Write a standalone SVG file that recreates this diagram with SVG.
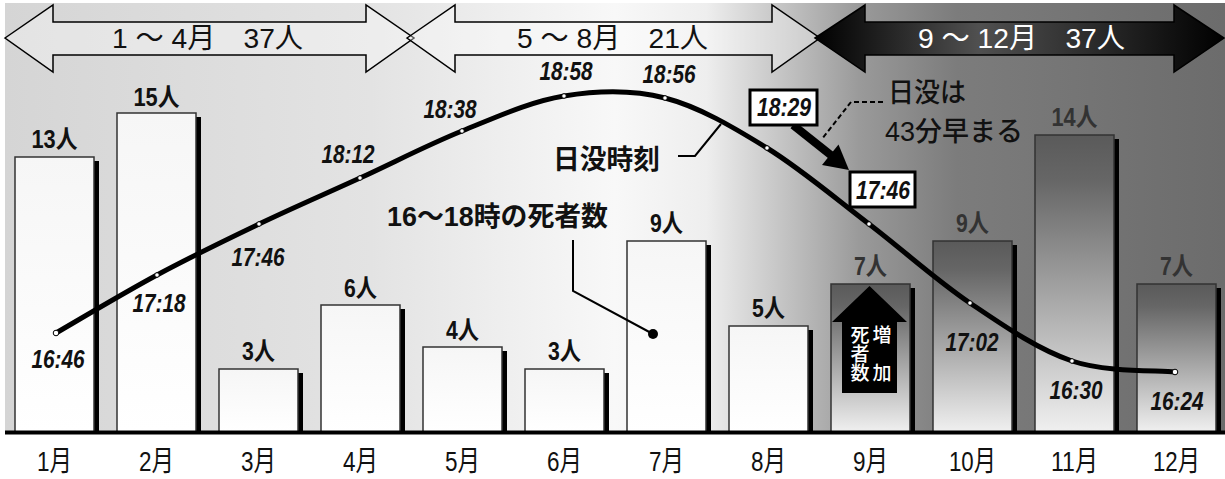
<svg xmlns="http://www.w3.org/2000/svg" width="1225" height="479" viewBox="0 0 1225 479">
<defs>
<linearGradient id="bg" gradientUnits="userSpaceOnUse" x1="5" y1="0" x2="1225" y2="0">
<stop offset="0" stop-color="#d5d5d5"/>
<stop offset="0.3" stop-color="#e3e3e3"/>
<stop offset="0.5" stop-color="#f8f8f8"/>
<stop offset="0.575" stop-color="#eeeeee"/>
<stop offset="0.63" stop-color="#c9c9c9"/>
<stop offset="0.7" stop-color="#9a9a9a"/>
<stop offset="0.78" stop-color="#7c7c7c"/>
<stop offset="1" stop-color="#6c6c6c"/>
</linearGradient>
<linearGradient id="dark" x1="0" y1="0" x2="0" y2="1">
<stop offset="0" stop-color="#5a5a5a"/>
<stop offset="0.15" stop-color="#666666"/>
<stop offset="1" stop-color="#f0f0f0"/>
</linearGradient>
<linearGradient id="light" x1="0" y1="0" x2="0" y2="1">
<stop offset="0" stop-color="#f6f6f6"/>
<stop offset="1" stop-color="#ffffff"/>
</linearGradient>
<linearGradient id="blk" gradientUnits="userSpaceOnUse" x1="815" y1="0" x2="1224" y2="0">
<stop offset="0" stop-color="#000"/>
<stop offset="0.4" stop-color="#505050"/>
<stop offset="0.75" stop-color="#222"/>
<stop offset="1" stop-color="#000"/>
</linearGradient>
</defs>
<style>
text { font-family: "Liberation Sans", "Noto Sans CJK JP", sans-serif; fill: #111; }
.band { stroke: #000; stroke-width: 1.5; fill: #fff; fill-opacity: 0.35; }
.bandk { stroke: #000; stroke-width: 1.5; fill: url(#blk); }
.bt { font-size: 28px; }
.bar { stroke: #333; stroke-width: 1.5; }
.lt { fill: url(#light); }
.dk { fill: url(#dark); }
.sh { fill: #000; }
.bl { font-weight: bold; font-size: 25px; }
.bl.g { fill: #333; }
.t { font-weight: bold; font-style: italic; font-size: 25px; }
.m { font-size: 28px; }
.n { font-size: 27px; font-weight: 500; }
.nb { font-size: 27px; font-weight: bold; }
.ln { fill: none; stroke: #000; stroke-width: 2; }
.dot { fill: #fff; stroke: #000; stroke-width: 1; }
.box { fill: #fff; stroke: #000; stroke-width: 3; }
</style>

<rect x="5" y="3" width="1220" height="429" fill="url(#bg)"/>

<g id="band-1-4">
<polygon class="band" points="5,38 53,5 53,22 366,22 366,5 414,38 366,72 366,55 53,55 53,72"/>
<text class="bt" x="112" y="48" textLength="191" lengthAdjust="spacingAndGlyphs">1 ～ 4月　37人</text>
</g>
<g id="band-5-8">
<polygon class="band" points="407,38 455,5 455,22 772,22 772,5 820,38 772,72 772,55 455,55 455,72"/>
<text class="bt" x="517" y="48" textLength="191" lengthAdjust="spacingAndGlyphs">5 ～ 8月　21人</text>
</g>
<g id="band-9-12">
<polygon class="bandk" points="815,38 865,5 865,22 1174,22 1174,5 1224,38 1174,72 1174,55 865,55 865,72"/>
<text class="bt" x="918" y="48" textLength="207" lengthAdjust="spacingAndGlyphs" style="fill:#fff">9 ～ 12月　37人</text>
</g>

<g id="bar-1"><rect class="sh" x="94" y="161" width="5" height="271"/><rect class="bar lt" x="15" y="157" width="79" height="275"/><text class="bl" x="31.5" y="148" textLength="46" lengthAdjust="spacingAndGlyphs">13人</text></g>
<g id="bar-2"><rect class="sh" x="196" y="117" width="5" height="315"/><rect class="bar lt" x="117" y="113" width="79" height="319"/><text class="bl" x="133.5" y="106" textLength="46" lengthAdjust="spacingAndGlyphs">15人</text></g>
<g id="bar-3"><rect class="sh" x="298" y="373" width="5" height="59"/><rect class="bar lt" x="219" y="369" width="79" height="63"/><text class="bl" x="242" y="360" textLength="33" lengthAdjust="spacingAndGlyphs">3人</text></g>
<g id="bar-4"><rect class="sh" x="400" y="309" width="5" height="123"/><rect class="bar lt" x="321" y="305" width="79" height="127"/><text class="bl" x="344" y="297" textLength="33" lengthAdjust="spacingAndGlyphs">6人</text></g>
<g id="bar-5"><rect class="sh" x="502" y="351" width="5" height="81"/><rect class="bar lt" x="423" y="347" width="79" height="85"/><text class="bl" x="446" y="339" textLength="33" lengthAdjust="spacingAndGlyphs">4人</text></g>
<g id="bar-6"><rect class="sh" x="604" y="373" width="5" height="59"/><rect class="bar lt" x="525" y="369" width="79" height="63"/><text class="bl" x="548" y="360" textLength="33" lengthAdjust="spacingAndGlyphs">3人</text></g>
<g id="bar-7"><rect class="sh" x="706" y="245" width="5" height="187"/><rect class="bar lt" x="627" y="241" width="79" height="191"/><text class="bl" x="650" y="232" textLength="33" lengthAdjust="spacingAndGlyphs">9人</text></g>
<g id="bar-8"><rect class="sh" x="808" y="330" width="5" height="102"/><rect class="bar lt" x="729" y="326" width="79" height="106"/><text class="bl" x="752" y="317" textLength="33" lengthAdjust="spacingAndGlyphs">5人</text></g>
<g id="bar-9"><rect class="sh" x="910" y="288" width="5" height="144"/><rect class="bar dk" x="831" y="284" width="79" height="148"/><text class="bl g" x="854" y="275" textLength="33" lengthAdjust="spacingAndGlyphs">7人</text></g>
<g id="bar-10"><rect class="sh" x="1012" y="245" width="5" height="187"/><rect class="bar dk" x="933" y="241" width="79" height="191"/><text class="bl g" x="956" y="232" textLength="33" lengthAdjust="spacingAndGlyphs">9人</text></g>
<g id="bar-11"><rect class="sh" x="1114" y="139" width="5" height="293"/><rect class="bar dk" x="1035" y="135" width="79" height="297"/><text class="bl g" x="1051.5" y="126" textLength="46" lengthAdjust="spacingAndGlyphs">14人</text></g>
<g id="bar-12"><rect class="sh" x="1216" y="288" width="5" height="144"/><rect class="bar dk" x="1137" y="284" width="79" height="148"/><text class="bl g" x="1160" y="275" textLength="33" lengthAdjust="spacingAndGlyphs">7人</text></g>

<g id="increase-arrow">
<polygon points="869.5,286 907,322 897,322 897,393 842,393 842,322 832,322" fill="#000"/>
<g style="font-size:19px;font-weight:500;text-anchor:middle">
<text x="860" y="342" style="fill:#fff">死</text>
<text x="860" y="361" style="fill:#fff">者</text>
<text x="860" y="380" style="fill:#fff">数</text>
<text x="882" y="342" style="fill:#fff">増</text>
<text x="882" y="380" style="fill:#fff">加</text>
</g>
</g>

<line x1="5" y1="432.5" x2="1225" y2="432.5" stroke="#000" stroke-width="4"/>

<g id="connectors">
<path d="M56,333 C72.8,323.3 123.2,293.2 157,275 C190.8,256.8 225.2,240.2 259,224 C292.8,207.8 326.2,193.5 360,178 C393.8,162.5 428,144.7 462,131 C496,117.3 530.2,101.5 564,96 C597.8,90.5 631.2,89.3 665,98 C698.8,106.7 733,127 767,148 C801,169 835.2,198.2 869,224 C902.8,249.8 936.2,280.2 970,303 C1003.8,325.8 1037.8,349.5 1072,361 C1106.2,372.5 1157.8,370.2 1175,372" fill="none" stroke="#000" stroke-width="5" stroke-linecap="round"/>
<g>
<circle class="dot" cx="56" cy="333" r="2.8"/>
<circle class="dot" cx="157" cy="275" r="2.3"/>
<circle class="dot" cx="259" cy="224" r="2.3"/>
<circle class="dot" cx="360" cy="178" r="2.3"/>
<circle class="dot" cx="462" cy="131" r="2.3"/>
<circle class="dot" cx="564" cy="96" r="2.3"/>
<circle class="dot" cx="665" cy="98" r="2.3"/>
<circle class="dot" cx="767" cy="148" r="2.3"/>
<circle class="dot" cx="869" cy="224" r="2.3"/>
<circle class="dot" cx="970" cy="303" r="2.3"/>
<circle class="dot" cx="1072" cy="361" r="2.3"/>
<circle class="dot" cx="1175" cy="372" r="2.8"/>
</g>
<polyline class="ln" points="678,156 695,156 721,124"/>
<polyline class="ln" points="573,240 573,291 653,334"/>
<circle cx="653" cy="334" r="5" fill="#000"/>
<polyline class="ln" points="883,102 851,102 822,139" stroke-dasharray="5 3"/>
<line x1="793" y1="125" x2="832" y2="156" stroke="#000" stroke-width="8"/>
<polygon points="849,170 822,165 838.5,144.5" fill="#000"/>
</g>

<g id="time-labels">
<text class="t" x="31.5" y="368" textLength="53" lengthAdjust="spacingAndGlyphs">16:46</text>
<text class="t" x="132.5" y="312" textLength="53" lengthAdjust="spacingAndGlyphs">17:18</text>
<text class="t" x="231.5" y="266" textLength="53" lengthAdjust="spacingAndGlyphs">17:46</text>
<text class="t" x="321.5" y="163" textLength="53" lengthAdjust="spacingAndGlyphs">18:12</text>
<text class="t" x="423.5" y="118" textLength="53" lengthAdjust="spacingAndGlyphs">18:38</text>
<text class="t" x="539.5" y="80" textLength="53" lengthAdjust="spacingAndGlyphs">18:58</text>
<text class="t" x="642.5" y="83" textLength="53" lengthAdjust="spacingAndGlyphs">18:56</text>
<text class="t" x="945.5" y="351" textLength="53" lengthAdjust="spacingAndGlyphs">17:02</text>
<text class="t" x="1049.5" y="399" textLength="53" lengthAdjust="spacingAndGlyphs">16:30</text>
<text class="t" x="1150.5" y="410" textLength="53" lengthAdjust="spacingAndGlyphs">16:24</text>
</g>
<g id="box-1829">
<rect class="box" x="750" y="90" width="67" height="35"/>
<text class="t" x="757" y="116" textLength="54" lengthAdjust="spacingAndGlyphs">18:29</text>
</g>
<g id="box-1746">
<rect class="box" x="850" y="172" width="65" height="35"/>
<text class="t" x="856" y="199" textLength="54" lengthAdjust="spacingAndGlyphs">17:46</text>
</g>

<g id="notes">
<text class="nb" x="553" y="169" textLength="107" lengthAdjust="spacingAndGlyphs">日没時刻</text>
<text class="nb" x="387" y="226" textLength="221" lengthAdjust="spacingAndGlyphs">16～18時の死者数</text>
<text class="n" x="888" y="102" textLength="78" lengthAdjust="spacingAndGlyphs">日没は</text>
<text class="n" x="885" y="141" textLength="138" lengthAdjust="spacingAndGlyphs">43分早まる</text>
</g>

<g id="month-labels">
<text class="m" x="37" y="471" textLength="35" lengthAdjust="spacingAndGlyphs">1月</text>
<text class="m" x="139" y="471" textLength="35" lengthAdjust="spacingAndGlyphs">2月</text>
<text class="m" x="241" y="471" textLength="35" lengthAdjust="spacingAndGlyphs">3月</text>
<text class="m" x="343" y="471" textLength="35" lengthAdjust="spacingAndGlyphs">4月</text>
<text class="m" x="445" y="471" textLength="35" lengthAdjust="spacingAndGlyphs">5月</text>
<text class="m" x="547" y="471" textLength="35" lengthAdjust="spacingAndGlyphs">6月</text>
<text class="m" x="649" y="471" textLength="35" lengthAdjust="spacingAndGlyphs">7月</text>
<text class="m" x="751" y="471" textLength="35" lengthAdjust="spacingAndGlyphs">8月</text>
<text class="m" x="853" y="471" textLength="35" lengthAdjust="spacingAndGlyphs">9月</text>
<text class="m" x="949" y="471" textLength="47" lengthAdjust="spacingAndGlyphs">10月</text>
<text class="m" x="1051" y="471" textLength="47" lengthAdjust="spacingAndGlyphs">11月</text>
<text class="m" x="1153" y="471" textLength="47" lengthAdjust="spacingAndGlyphs">12月</text>
</g>
</svg>
